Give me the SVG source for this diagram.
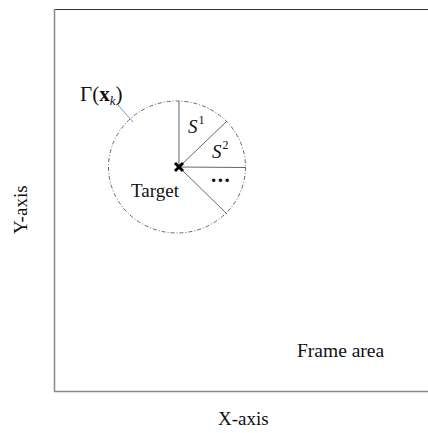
<svg xmlns="http://www.w3.org/2000/svg" width="428" height="433" viewBox="0 0 428 433">
<style>
text{font-family:"Liberation Serif","Times New Roman",serif;fill:#111}
.ray{stroke:#666;stroke-width:1;fill:none}
</style>
<rect width="428" height="433" fill="#fff"/>
<g id="frame">
<line x1="54" y1="9.5" x2="428" y2="9.5" stroke="#333" stroke-width="1"/>
<line x1="54.5" y1="9" x2="54.5" y2="392" stroke="#888" stroke-width="1.5"/>
<line x1="54" y1="391.5" x2="428" y2="391.5" stroke="#888" stroke-width="1.5"/>
<text x="297" y="357" font-size="19.5">Frame area</text>
</g>
<g id="axes">
<text x="218" y="425" font-size="19">X-axis</text>
<text transform="translate(27,234) rotate(-90)" font-size="19">Y-axis</text>
</g>
<g id="region">
<ellipse cx="177" cy="167" rx="68.5" ry="66" fill="none" stroke="#666" stroke-width="1" stroke-dasharray="4,2,1,2"/>
</g>
<g id="connectors">
<line class="ray" x1="179" y1="167" x2="179" y2="101"/>
<line class="ray" x1="179" y1="167" x2="227" y2="121"/>
<line class="ray" x1="179" y1="167" x2="245.5" y2="167.5"/>
<line class="ray" x1="179" y1="167" x2="227" y2="214"/>
<line x1="118" y1="105" x2="133" y2="122" stroke="#7a9ad6" stroke-width="1"/>
</g>
<g id="target">
<path d="M175 163 L183 171 M183 163 L175 171" stroke="#000" stroke-width="3"/>
<text x="131" y="197" font-size="19">Target</text>
</g>
<g id="labels">
<text x="80" y="101" font-size="21">Γ(<tspan font-weight="bold">x</tspan><tspan font-size="13" font-style="italic" dy="4">k</tspan><tspan dy="-4">)</tspan></text>
<text x="188" y="133" font-size="19" font-style="italic">S<tspan font-size="12" font-style="normal" dy="-9" dx="1">1</tspan></text>
<text x="212" y="158" font-size="19" font-style="italic">S<tspan font-size="12" font-style="normal" dy="-9" dx="1">2</tspan></text>
<text x="211" y="182" font-size="21" font-weight="bold" letter-spacing="1.5">...</text>
</g>
</svg>
